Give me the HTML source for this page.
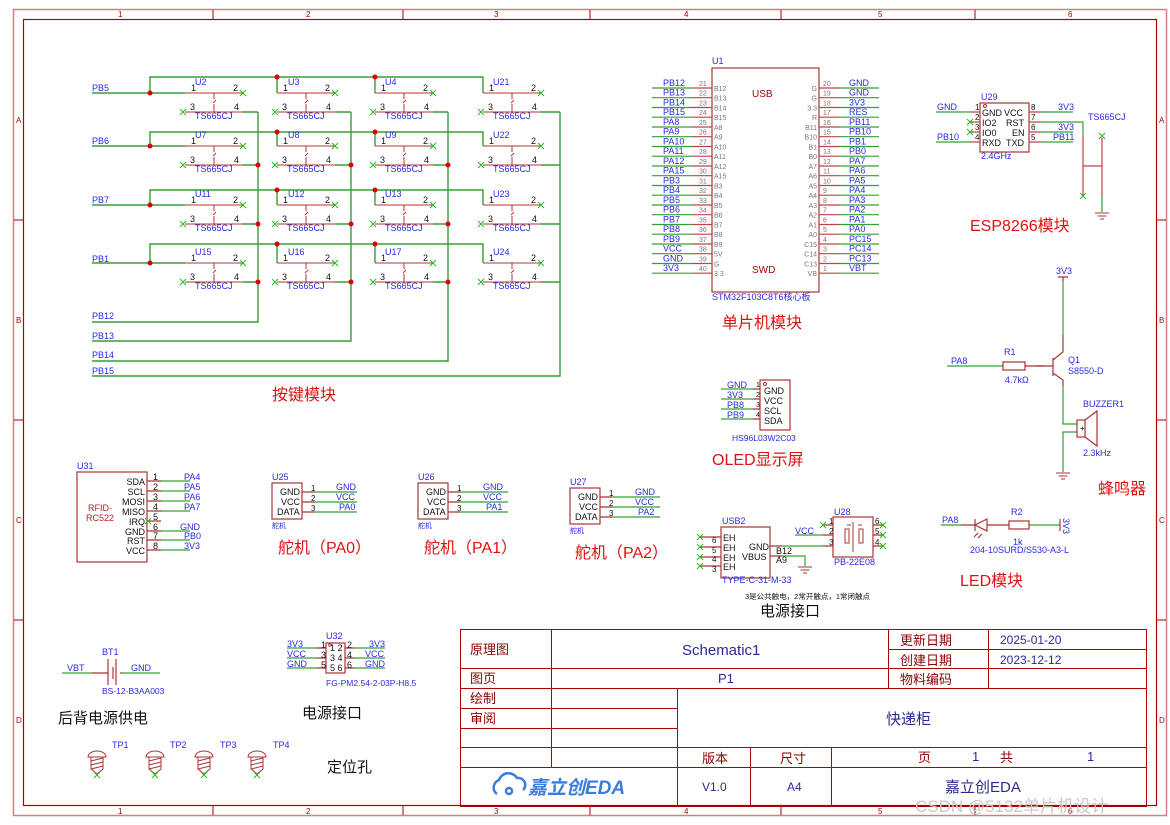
<!DOCTYPE html>
<html><head><meta charset="utf-8"><style>
html,body{margin:0;padding:0;background:#fff}
svg{display:block}
text{font-family:"Liberation Sans","Noto Sans CJK SC",sans-serif}
.b{fill:#2a2ae0;font-size:9px}
.k{fill:#111;font-size:9px}
.g{fill:#777;font-size:7px}
.r{fill:#e01010;font-size:16px}
.t{fill:#8b0000;font-size:13px}
.v{fill:#2b2b8f;font-size:13px}
</style></head><body>
<svg width="1170" height="825" viewBox="0 0 1170 825" xmlns="http://www.w3.org/2000/svg">
<defs>
<g id="sw" fill="none">
<path stroke="#b33" d="M0 0H58M0 19H58M29 0V6M31 7l-3 3M29 11v8"/>
<path stroke="#2b2" d="M55 -3l6 6M55 3l6-6M-5 16l6 6M-5 22l6-6"/>
</g>
<path id="x" stroke="#2b2" fill="none" d="M-3 -3l6 6M-3 3l6-6"/>
<g id="gnd" stroke="#a33" fill="none"><path d="M-7 0h14M-4.5 3h9M-2 6h4"/></g>
<g id="tp" stroke="#a33" fill="none"><path d="M-9 0a9 6 0 0 1 18 0zM-6 0v12l6 5l6-5V0M-6 4l12-3M-6 8l12-3M-6 12l12-3"/><path stroke="#2b2" d="M-3 15l6 6M-3 21l6-6"/></g>
</defs>
<!-- frame -->
<rect x="13.5" y="9.5" width="1153" height="806" fill="none" stroke="#d08080" stroke-width="1.5"/>
<rect x="23.5" y="19.5" width="1133" height="786" fill="none" stroke="#a00" stroke-width="1.2"/>
<g stroke="#a00" stroke-width="1"><path d="M213 10v9M403 10v9M590 10v9M781 10v9M975 10v9M213 806v9M403 806v9M590 806v9M781 806v9M975 806v9M14 220h9M14 420h9M14 620h9M1157 220h9M1157 420h9M1157 620h9"/></g>
<g fill="#a00" font-size="8px"><text x="118" y="17">1</text><text x="306" y="17">2</text><text x="494" y="17">3</text><text x="684" y="17">4</text><text x="878" y="17">5</text><text x="1068" y="17">6</text>
<text x="118" y="814">1</text><text x="306" y="814">2</text><text x="494" y="814">3</text><text x="684" y="814">4</text><text x="878" y="814">5</text><text x="1068" y="814">6</text>
<text x="16" y="123">A</text><text x="16" y="323">B</text><text x="16" y="523">C</text><text x="16" y="723">D</text><text x="1159" y="123">A</text><text x="1159" y="323">B</text><text x="1159" y="523">C</text><text x="1159" y="723">D</text></g>

<!-- key matrix wires -->
<g stroke="#33a033" stroke-width="1.4" fill="none">
<path d="M92 93H185M150 93V77H483V93M277 77V93M375 77V93"/>
<path d="M92 146H185M150 146V132H483V146M277 132V146M375 132V146"/>
<path d="M92 205H185M150 205V190H483V205M277 190V205M375 190V205"/>
<path d="M92 263H185M150 263V244H483V263M277 244V263M375 244V263"/>
<path d="M243 112H258M335 112H351M433 112H448M541 112H560M243 165H258M335 165H351M433 165H448M541 165H560M243 224H258M335 224H351M433 224H448M541 224H560M243 282H258M335 282H351M433 282H448M541 282H560"/>
<path d="M258 112V322H92M351 112V341H92M448 112V361H92M560 112V376H92"/>
</g>
<g fill="#d00">
<circle cx="150" cy="93" r="2.5"/><circle cx="277" cy="77" r="2.5"/><circle cx="375" cy="77" r="2.5"/>
<circle cx="150" cy="146" r="2.5"/><circle cx="277" cy="132" r="2.5"/><circle cx="375" cy="132" r="2.5"/>
<circle cx="150" cy="205" r="2.5"/><circle cx="277" cy="190" r="2.5"/><circle cx="375" cy="190" r="2.5"/>
<circle cx="150" cy="263" r="2.5"/><circle cx="277" cy="244" r="2.5"/><circle cx="375" cy="244" r="2.5"/>
<circle cx="258" cy="165" r="2.5"/><circle cx="351" cy="165" r="2.5"/><circle cx="448" cy="165" r="2.5"/>
<circle cx="258" cy="224" r="2.5"/><circle cx="351" cy="224" r="2.5"/><circle cx="448" cy="224" r="2.5"/>
<circle cx="258" cy="282" r="2.5"/><circle cx="351" cy="282" r="2.5"/><circle cx="448" cy="282" r="2.5"/>
</g>
<g class="b"><text x="92" y="91">PB5</text><text x="92" y="144">PB6</text><text x="92" y="203">PB7</text><text x="92" y="262">PB1</text>
<text x="92" y="319">PB12</text><text x="92" y="339">PB13</text><text x="92" y="358">PB14</text><text x="92" y="374">PB15</text></g>

<use href="#sw" x="185" y="93"/><use href="#sw" x="277" y="93"/><use href="#sw" x="375" y="93"/><use href="#sw" x="483" y="93"/>
<use href="#sw" x="185" y="146"/><use href="#sw" x="277" y="146"/><use href="#sw" x="375" y="146"/><use href="#sw" x="483" y="146"/>
<use href="#sw" x="185" y="205"/><use href="#sw" x="277" y="205"/><use href="#sw" x="375" y="205"/><use href="#sw" x="483" y="205"/>
<use href="#sw" x="185" y="263"/><use href="#sw" x="277" y="263"/><use href="#sw" x="375" y="263"/><use href="#sw" x="483" y="263"/>
<g class="b">
<text x="195" y="85">U2</text><text x="288" y="85">U3</text><text x="385" y="85">U4</text><text x="493" y="85">U21</text>
<text x="195" y="138">U7</text><text x="288" y="138">U8</text><text x="385" y="138">U9</text><text x="493" y="138">U22</text>
<text x="195" y="197">U11</text><text x="288" y="197">U12</text><text x="385" y="197">U13</text><text x="493" y="197">U23</text>
<text x="195" y="255">U15</text><text x="288" y="255">U16</text><text x="385" y="255">U17</text><text x="493" y="255">U24</text>
<text x="195" y="119">TS665CJ</text><text x="287" y="119">TS665CJ</text><text x="385" y="119">TS665CJ</text><text x="493" y="119">TS665CJ</text>
<text x="195" y="172">TS665CJ</text><text x="287" y="172">TS665CJ</text><text x="385" y="172">TS665CJ</text><text x="493" y="172">TS665CJ</text>
<text x="195" y="231">TS665CJ</text><text x="287" y="231">TS665CJ</text><text x="385" y="231">TS665CJ</text><text x="493" y="231">TS665CJ</text>
<text x="195" y="289">TS665CJ</text><text x="287" y="289">TS665CJ</text><text x="385" y="289">TS665CJ</text><text x="493" y="289">TS665CJ</text>
</g>
<g class="k" font-size="8px">
<text x="191" y="91">1</text><text x="233" y="91">2</text><text x="190" y="110">3</text><text x="234" y="110">4</text>
<text x="283" y="91">1</text><text x="325" y="91">2</text><text x="282" y="110">3</text><text x="326" y="110">4</text>
<text x="381" y="91">1</text><text x="423" y="91">2</text><text x="380" y="110">3</text><text x="424" y="110">4</text>
<text x="489" y="91">1</text><text x="531" y="91">2</text><text x="488" y="110">3</text><text x="532" y="110">4</text>
<text x="191" y="144">1</text><text x="233" y="144">2</text><text x="190" y="163">3</text><text x="234" y="163">4</text>
<text x="283" y="144">1</text><text x="325" y="144">2</text><text x="282" y="163">3</text><text x="326" y="163">4</text>
<text x="381" y="144">1</text><text x="423" y="144">2</text><text x="380" y="163">3</text><text x="424" y="163">4</text>
<text x="489" y="144">1</text><text x="531" y="144">2</text><text x="488" y="163">3</text><text x="532" y="163">4</text>
<text x="191" y="203">1</text><text x="233" y="203">2</text><text x="190" y="222">3</text><text x="234" y="222">4</text>
<text x="283" y="203">1</text><text x="325" y="203">2</text><text x="282" y="222">3</text><text x="326" y="222">4</text>
<text x="381" y="203">1</text><text x="423" y="203">2</text><text x="380" y="222">3</text><text x="424" y="222">4</text>
<text x="489" y="203">1</text><text x="531" y="203">2</text><text x="488" y="222">3</text><text x="532" y="222">4</text>
<text x="191" y="261">1</text><text x="233" y="261">2</text><text x="190" y="280">3</text><text x="234" y="280">4</text>
<text x="283" y="261">1</text><text x="325" y="261">2</text><text x="282" y="280">3</text><text x="326" y="280">4</text>
<text x="381" y="261">1</text><text x="423" y="261">2</text><text x="380" y="280">3</text><text x="424" y="280">4</text>
<text x="489" y="261">1</text><text x="531" y="261">2</text><text x="488" y="280">3</text><text x="532" y="280">4</text>
</g>
<text class="r" x="272" y="400">按键模块</text>

<!-- STM32 -->
<rect x="712" y="68" width="107" height="224" fill="none" stroke="#a33" stroke-width="1.2"/>
<text class="b" x="712" y="64">U1</text>
<text x="752" y="97" fill="#a00" font-size="10px" font-family="Liberation Serif,serif">USB</text>
<text x="752" y="273" fill="#a00" font-size="10px" font-family="Liberation Serif,serif">SWD</text>
<text class="b" x="712" y="300" font-size="8.5px">STM32F103C8T6核心板</text>
<g stroke-width="1.2" fill="none">
<path stroke="#33a033" d="M652 88h40M652 97.7h40M652 107.5h40M652 117.2h40M652 127h40M652 136.7h40M652 146.5h40M652 156.2h40M652 166h40M652 175.7h40M652 185.5h40M652 195.2h40M652 205h40M652 214.7h40M652 224.5h40M652 234.2h40M652 244h40M652 253.7h40M652 263.5h40M652 273.2h40
M839 88h40M839 97.7h40M839 107.5h40M839 117.2h40M839 127h40M839 136.7h40M839 146.5h40M839 156.2h40M839 166h40M839 175.7h40M839 185.5h40M839 195.2h40M839 205h40M839 214.7h40M839 224.5h40M839 234.2h40M839 244h40M839 253.7h40M839 263.5h40M839 273.2h40"/>
<path stroke="#b44" d="M692 88h20M692 97.7h20M692 107.5h20M692 117.2h20M692 127h20M692 136.7h20M692 146.5h20M692 156.2h20M692 166h20M692 175.7h20M692 185.5h20M692 195.2h20M692 205h20M692 214.7h20M692 224.5h20M692 234.2h20M692 244h20M692 253.7h20M692 263.5h20M692 273.2h20
M819 88h20M819 97.7h20M819 107.5h20M819 117.2h20M819 127h20M819 136.7h20M819 146.5h20M819 156.2h20M819 166h20M819 175.7h20M819 185.5h20M819 195.2h20M819 205h20M819 214.7h20M819 224.5h20M819 234.2h20M819 244h20M819 253.7h20M819 263.5h20M819 273.2h20"/>
</g>
<g class="b"><text x="663" y="86">PB12</text><text x="663" y="95.7">PB13</text><text x="663" y="105.5">PB14</text><text x="663" y="115.2">PB15</text><text x="663" y="125">PA8</text><text x="663" y="134.7">PA9</text><text x="663" y="144.5">PA10</text><text x="663" y="154.2">PA11</text><text x="663" y="164">PA12</text><text x="663" y="173.7">PA15</text><text x="663" y="183.5">PB3</text><text x="663" y="193.2">PB4</text><text x="663" y="203">PB5</text><text x="663" y="212.7">PB6</text><text x="663" y="222.5">PB7</text><text x="663" y="232.2">PB8</text><text x="663" y="242">PB9</text><text x="663" y="251.7">VCC</text><text x="663" y="261.5">GND</text><text x="663" y="271.2">3V3</text>
<text x="849" y="86">GND</text><text x="849" y="95.7">GND</text><text x="849" y="105.5">3V3</text><text x="849" y="115.2">RES</text><text x="849" y="125">PB11</text><text x="849" y="134.7">PB10</text><text x="849" y="144.5">PB1</text><text x="849" y="154.2">PB0</text><text x="849" y="164">PA7</text><text x="849" y="173.7">PA6</text><text x="849" y="183.5">PA5</text><text x="849" y="193.2">PA4</text><text x="849" y="203">PA3</text><text x="849" y="212.7">PA2</text><text x="849" y="222.5">PA1</text><text x="849" y="232.2">PA0</text><text x="849" y="242">PC15</text><text x="849" y="251.7">PC14</text><text x="849" y="261.5">PC13</text><text x="849" y="271.2">VBT</text></g>
<g class="g"><text x="699" y="86">21</text><text x="699" y="95.7">22</text><text x="699" y="105.5">23</text><text x="699" y="115.2">24</text><text x="699" y="125">25</text><text x="699" y="134.7">26</text><text x="699" y="144.5">27</text><text x="699" y="154.2">28</text><text x="699" y="164">29</text><text x="699" y="173.7">30</text><text x="699" y="183.5">31</text><text x="699" y="193.2">32</text><text x="699" y="203">33</text><text x="699" y="212.7">34</text><text x="699" y="222.5">35</text><text x="699" y="232.2">36</text><text x="699" y="242">37</text><text x="699" y="251.7">38</text><text x="699" y="261.5">39</text><text x="699" y="271.2">40</text>
<text x="823" y="86">20</text><text x="823" y="95.7">19</text><text x="823" y="105.5">18</text><text x="823" y="115.2">17</text><text x="823" y="125">16</text><text x="823" y="134.7">15</text><text x="823" y="144.5">14</text><text x="823" y="154.2">13</text><text x="823" y="164">12</text><text x="823" y="173.7">11</text><text x="823" y="183.5">10</text><text x="823" y="193.2">9</text><text x="823" y="203">8</text><text x="823" y="212.7">7</text><text x="823" y="222.5">6</text><text x="823" y="232.2">5</text><text x="823" y="242">4</text><text x="823" y="251.7">3</text><text x="823" y="261.5">2</text><text x="823" y="271.2">1</text>
<text x="714" y="91">B12</text><text x="714" y="100.7">B13</text><text x="714" y="110.5">B14</text><text x="714" y="120.2">B15</text><text x="714" y="130">A8</text><text x="714" y="139.7">A9</text><text x="714" y="149.5">A10</text><text x="714" y="159.2">A11</text><text x="714" y="169">A12</text><text x="714" y="178.7">A15</text><text x="714" y="188.5">B3</text><text x="714" y="198.2">B4</text><text x="714" y="208">B5</text><text x="714" y="217.7">B6</text><text x="714" y="227.5">B7</text><text x="714" y="237.2">B8</text><text x="714" y="247">B9</text><text x="714" y="256.7">5V</text><text x="714" y="266.5">G</text><text x="714" y="276.2">3.3</text></g>
<g class="g" text-anchor="end"><text x="817" y="91">G</text><text x="817" y="100.7">G</text><text x="817" y="110.5">3.3</text><text x="817" y="120.2">R</text><text x="817" y="130">B11</text><text x="817" y="139.7">B10</text><text x="817" y="149.5">B1</text><text x="817" y="159.2">B0</text><text x="817" y="169">A7</text><text x="817" y="178.7">A6</text><text x="817" y="188.5">A5</text><text x="817" y="198.2">A4</text><text x="817" y="208">A3</text><text x="817" y="217.7">A2</text><text x="817" y="227.5">A1</text><text x="817" y="237.2">A0</text><text x="817" y="247">C15</text><text x="817" y="256.7">C14</text><text x="817" y="266.5">C13</text><text x="817" y="276.2">VB</text></g>
<text class="r" x="722" y="328">单片机模块</text>

<!-- ESP8266 -->
<rect x="980" y="103" width="49" height="49" fill="none" stroke="#a33" stroke-width="1.2"/>
<circle cx="985" cy="106" r="1.5" fill="none" stroke="#a33"/>
<g stroke-width="1.2" fill="none">
<path stroke="#33a033" d="M936 112h34M936 142h34M1041 112h32M1041 122h42V135M1041 132h32M1041 142h32"/>
<path stroke="#b44" d="M970 112h10M970 122h10M970 132h10M970 142h10M1029 112h12M1029 122h12M1029 132h12M1029 142h12M1083 135V196M1083 166h19M1102 138V196"/>
<path stroke="#33a033" d="M1102 196V212"/>
</g>
<use href="#x" x="970" y="122"/><use href="#x" x="970" y="132"/><use href="#x" x="1083" y="196"/><use href="#x" x="1102" y="136"/>
<use href="#gnd" x="1102" y="213"/>
<g class="b"><text x="981" y="100">U29</text><text x="937" y="110">GND</text><text x="937" y="140">PB10</text><text x="1058" y="110">3V3</text><text x="1058" y="130">3V3</text><text x="1053" y="140">PB11</text><text x="1088" y="120">TS665CJ</text><text x="981" y="159">2.4GHz</text></g>
<g class="k"><text x="982" y="116">GND</text><text x="982" y="126">IO2</text><text x="982" y="136">IO0</text><text x="982" y="146">RXD</text><text x="1004" y="116">VCC</text><text x="1006" y="126">RST</text><text x="1012" y="136">EN</text><text x="1006" y="146">TXD</text>
<text x="975" y="110" font-size="8px">1</text><text x="975" y="120" font-size="8px">2</text><text x="975" y="130" font-size="8px">3</text><text x="975" y="140" font-size="8px">4</text><text x="1031" y="110" font-size="8px">8</text><text x="1031" y="120" font-size="8px">7</text><text x="1031" y="130" font-size="8px">6</text><text x="1031" y="140" font-size="8px">5</text></g>
<text class="r" x="970" y="231">ESP8266模块</text>

<!-- buzzer -->
<g stroke-width="1.2" fill="none">
<path stroke="#a33" d="M1058 277h10M1063 277v4"/>
<path stroke="#33a033" d="M1063 281V335M947 366H1003M1035 366H1045M1063 386V424H1077M1077 432H1063V472"/>
<path stroke="#a33" d="M1063 335V352l-10 8M1053 358V376M1053 373l10 7V386M1025 366H1053"/>
<rect x="1003" y="362" width="22" height="8" stroke="#a33"/>
<rect x="1077" y="420" width="8" height="17" stroke="#a33"/>
<path stroke="#a33" d="M1085 420l12-9V446l-12-9"/>
</g>
<use href="#gnd" x="1063" y="473"/>
<g class="b"><text x="1056" y="274">3V3</text><text x="951" y="364">PA8</text><text x="1004" y="355">R1</text><text x="1005" y="383">4.7kΩ</text><text x="1068" y="363">Q1</text><text x="1068" y="374">S8550-D</text><text x="1083" y="407">BUZZER1</text><text x="1083" y="456">2.3kHz</text></g>
<text x="1080" y="431" font-size="8px">+</text>
<text class="r" x="1098" y="494">蜂鸣器</text>

<!-- LED -->
<g stroke-width="1.2" fill="none">
<path stroke="#33a033" d="M941 525H962M1029 525H1060"/>
<path stroke="#a33" d="M962 525H975M975 519v12M987 519l-12 6 12 6zM987 525H1009M1060 519v12M978 533l-4 4M982 534l-4 4"/>
<rect x="1009" y="521" width="20" height="8" stroke="#a33"/>
</g>
<g class="b"><text x="942" y="523">PA8</text><text x="1011" y="515">R2</text><text x="1013" y="545">1k</text><text x="970" y="553">204-10SURD/S530-A3-L</text><text transform="translate(1063,518) rotate(90)">3V3</text></g>
<text class="r" x="960" y="586">LED模块</text>

<!-- OLED -->
<rect x="760" y="380" width="30" height="50" fill="none" stroke="#a33" stroke-width="1.2"/>
<circle cx="765" cy="384" r="1.5" fill="none" stroke="#a33"/>
<path stroke="#33a033" stroke-width="1.2" d="M721 389h32M721 399h32M721 409h32M721 419h32"/>
<path stroke="#a33" stroke-width="1.2" d="M753 389h7M753 399h7M753 409h7M753 419h7"/>
<g class="b"><text x="727" y="388">GND</text><text x="727" y="398">3V3</text><text x="727" y="408">PB8</text><text x="727" y="418">PB9</text><text x="732" y="441" font-size="8.5px">HS96L03W2C03</text></g>
<g class="k"><text x="764" y="394">GND</text><text x="764" y="404">VCC</text><text x="764" y="414">SCL</text><text x="764" y="424">SDA</text><text x="756" y="387" font-size="7px">1</text><text x="756" y="397" font-size="7px">2</text><text x="756" y="407" font-size="7px">3</text><text x="756" y="417" font-size="7px">4</text></g>
<text class="r" x="712" y="465">OLED显示屏</text>

<!-- USB2 / U28 -->
<rect x="721" y="527" width="49" height="51" fill="none" stroke="#a33" stroke-width="1.2"/>
<path stroke="#a33" stroke-width="1.2" d="M700 537h21M700 547h21M700 557h21M700 566h21M770 546h12M770 556h12M833 525h-10M833 535h-10M833 546h-10M873 525h10M873 535h10M873 546h10"/>
<path stroke="#33a033" stroke-width="1.2" fill="none" d="M782 546H823M782 556H805V566M795 535H823"/>
<use href="#gnd" x="805" y="567"/>
<use href="#x" x="700" y="537"/><use href="#x" x="700" y="547"/><use href="#x" x="700" y="557"/><use href="#x" x="700" y="566"/>
<use href="#x" x="823" y="525"/><use href="#x" x="883" y="525"/><use href="#x" x="883" y="535"/><use href="#x" x="883" y="546"/>
<rect x="833" y="517" width="40" height="40" fill="none" stroke="#a33" stroke-width="1.2"/>
<path stroke="#a33" fill="none" d="M853 522v30M847 525h4M858 525h4M845 529h4v14h-4zM859 529h4v14h-4z"/>
<g class="k"><text x="723" y="541">EH</text><text x="723" y="551">EH</text><text x="723" y="561">EH</text><text x="723" y="570">EH</text><text x="749" y="550">GND</text><text x="742" y="560">VBUS</text><text x="776" y="554">B12</text><text x="776" y="563">A9</text>
<text x="712" y="543" font-size="8px">6</text><text x="712" y="553" font-size="8px">5</text><text x="712" y="562" font-size="8px">4</text><text x="712" y="572" font-size="8px">3</text>
<text x="829" y="524" font-size="8px">1</text><text x="829" y="534" font-size="8px">2</text><text x="829" y="545" font-size="8px">3</text><text x="875" y="524" font-size="8px">6</text><text x="875" y="534" font-size="8px">5</text><text x="875" y="545" font-size="8px">4</text></g>
<g class="b"><text x="722" y="524">USB2</text><text x="722" y="583">TYPE-C-31-M-33</text><text x="834" y="515">U28</text><text x="834" y="565">PB-22E08</text><text x="795" y="534">VCC</text></g>
<text x="745" y="599" fill="#111" font-size="7.5px">3是公共触电，2常开触点，1常闭触点</text>
<text x="760" y="616" fill="#111" font-size="15px">电源接口</text>

<!-- RFID -->
<rect x="77" y="472" width="70" height="90" fill="none" stroke="#a33" stroke-width="1.2"/>
<path stroke="#a33" stroke-width="1.2" d="M147 481h14M147 491h14M147 501h14M147 511h14M147 521h14M147 531h14M147 540h14M147 550h14"/>
<path stroke="#33a033" stroke-width="1.2" d="M161 481h29M161 491h29M161 501h29M161 511h29M161 531h29M161 540h29M161 550h29"/>
<use href="#x" x="148" y="521"/>
<g class="k" text-anchor="end"><text x="145" y="485">SDA</text><text x="145" y="495">SCL</text><text x="145" y="505">MOSI</text><text x="145" y="515">MISO</text><text x="145" y="525">IRQ</text><text x="145" y="535">GND</text><text x="145" y="544">RST</text><text x="145" y="554">VCC</text></g>
<g class="k" font-size="8px"><text x="153" y="480">1</text><text x="153" y="490">2</text><text x="153" y="500">3</text><text x="153" y="510">4</text><text x="153" y="520">5</text><text x="153" y="530">6</text><text x="153" y="539">7</text><text x="153" y="549">8</text></g>
<g class="b"><text x="77" y="469">U31</text><text x="184" y="480">PA4</text><text x="184" y="490">PA5</text><text x="184" y="500">PA6</text><text x="184" y="510">PA7</text><text x="180" y="530">GND</text><text x="184" y="539">PB0</text><text x="184" y="549">3V3</text></g>
<text x="88" y="511" fill="#c02020" font-size="9px">RFID-</text><text x="86" y="521" fill="#c02020" font-size="9px">RC522</text>

<!-- servos -->
<g stroke-width="1.2" fill="none">
<rect x="272" y="483" width="30" height="36" stroke="#a33"/>
<rect x="418" y="483" width="30" height="36" stroke="#a33"/>
<rect x="570" y="488" width="30" height="36" stroke="#a33"/>
<path stroke="#a33" d="M302 492h12M302 502h12M302 512h12M448 492h12M448 502h12M448 512h12M600 497h12M600 507h12M600 517h12"/>
<path stroke="#33a033" d="M314 492h43M314 502h43M314 512h43M460 492h48M460 502h48M460 512h48M612 497h48M612 507h48M612 517h48"/>
</g>
<g class="k"><text x="280" y="495">GND</text><text x="281" y="505">VCC</text><text x="277" y="515">DATA</text><text x="426" y="495">GND</text><text x="427" y="505">VCC</text><text x="423" y="515">DATA</text><text x="578" y="500">GND</text><text x="579" y="510">VCC</text><text x="575" y="520">DATA</text>
<text x="311" y="491" font-size="8px">1</text><text x="311" y="501" font-size="8px">2</text><text x="311" y="511" font-size="8px">3</text><text x="457" y="491" font-size="8px">1</text><text x="457" y="501" font-size="8px">2</text><text x="457" y="511" font-size="8px">3</text><text x="609" y="496" font-size="8px">1</text><text x="609" y="506" font-size="8px">2</text><text x="609" y="516" font-size="8px">3</text></g>
<g class="b"><text x="272" y="480">U25</text><text x="336" y="490">GND</text><text x="336" y="500">VCC</text><text x="339" y="510">PA0</text><text x="272" y="528" font-size="7px">舵机</text>
<text x="418" y="480">U26</text><text x="483" y="490">GND</text><text x="483" y="500">VCC</text><text x="486" y="510">PA1</text><text x="418" y="528" font-size="7px">舵机</text>
<text x="570" y="485">U27</text><text x="635" y="495">GND</text><text x="635" y="505">VCC</text><text x="638" y="515">PA2</text><text x="570" y="533" font-size="7px">舵机</text></g>
<text class="r" x="278" y="553">舵机（PA0）</text><text class="r" x="424" y="553">舵机（PA1）</text><text class="r" x="575" y="558">舵机（PA2）</text>

<!-- battery -->
<path stroke="#33a033" stroke-width="1.2" d="M62 673h30M122 673h38"/>
<path stroke="#a33" stroke-width="1.2" d="M92 673h16M108 659v26M113 667v12M116 659v26M120 673h2"/>
<g class="b"><text x="102" y="655">BT1</text><text x="67" y="671">VBT</text><text x="131" y="671">GND</text><text x="102" y="694" font-size="8.5px">BS-12-B3AA003</text></g>
<text x="58" y="723" fill="#111" font-size="15px">后背电源供电</text>

<!-- U32 -->
<rect x="326" y="643" width="19" height="30" fill="none" stroke="#a33" stroke-width="1.2"/>
<circle cx="330" cy="645" r="1.3" fill="none" stroke="#a33"/>
<path stroke="#33a033" stroke-width="1.2" d="M287 648h30M287 658h30M287 668h30M354 648h31M354 658h31M354 668h31"/>
<path stroke="#a33" stroke-width="1.2" d="M317 648h9M317 658h9M317 668h9M345 648h9M345 658h9M345 668h9"/>
<g class="k" font-size="8px"><text x="321" y="648">1</text><text x="321" y="658">3</text><text x="321" y="668">5</text><text x="347" y="648">2</text><text x="347" y="658">4</text><text x="347" y="668">6</text><text x="330" y="651">1 2</text><text x="330" y="661">3 4</text><text x="330" y="671">5 6</text></g>
<g class="b"><text x="326" y="639">U32</text><text x="287" y="647">3V3</text><text x="287" y="657">VCC</text><text x="287" y="667">GND</text><text x="369" y="647">3V3</text><text x="365" y="657">VCC</text><text x="365" y="667">GND</text><text x="326" y="686" font-size="8.5px">FG-PM2.54-2-03P-H8.5</text></g>
<text x="302" y="718" fill="#111" font-size="15px">电源接口</text>

<!-- TPs -->
<use href="#tp" x="97" y="757"/><use href="#tp" x="155" y="757"/><use href="#tp" x="204" y="757"/><use href="#tp" x="257" y="757"/>
<g class="b"><text x="112" y="748">TP1</text><text x="170" y="748">TP2</text><text x="220" y="748">TP3</text><text x="273" y="748">TP4</text></g>
<text x="327" y="772" fill="#111" font-size="15px">定位孔</text>

<!-- title block -->
<g stroke="#a00" stroke-width="1" fill="none">
<rect x="460.5" y="629.5" width="686" height="177"/>
<path d="M460 668.5H1146M460 688.5H1146M460 708.5H677M460 728.5H677M460 747.5H1146M460 767.5H1146M551.5 629V767M677.5 688V806M750.5 747V806M831.5 747V806M888.5 629V688M988.5 629V688M888 649.5H1146"/>
</g>
<g class="t"><text x="470" y="654">原理图</text><text x="470" y="683">图页</text><text x="470" y="703">绘制</text><text x="470" y="723">审阅</text><text x="900" y="645">更新日期</text><text x="900" y="665">创建日期</text><text x="900" y="684">物料编码</text><text x="702" y="763">版本</text><text x="780" y="763">尺寸</text><text x="918" y="762">页</text><text x="1000" y="762">共</text></g>
<g class="v"><text x="682" y="655" font-size="15px">Schematic1</text><text x="718" y="683">P1</text><text x="1000" y="644" font-size="12px">2025-01-20</text><text x="1000" y="664" font-size="12px">2023-12-12</text><text x="886" y="724" font-size="15px">快递柜</text><text x="972" y="761">1</text><text x="1087" y="761">1</text><text x="702" y="791" font-size="12px">V1.0</text><text x="787" y="791" font-size="12px">A4</text><text x="945" y="792" font-size="15px">嘉立创EDA</text></g>
<g fill="none" stroke="#3b7ddd" stroke-width="2.5"><path d="M497 794a8 8 0 0 1 2-14a10 10 0 0 1 18-2a7 7 0 0 1 6 12"/><circle cx="509" cy="791" r="3"/></g>
<text x="528" y="794" fill="#3b7ddd" font-size="19px" font-weight="bold" font-style="italic">嘉立创EDA</text>

<text x="915" y="812" fill="#c8c8c8" font-size="17px">CSDN @5132单片机设计</text>
</svg>
</body></html>
